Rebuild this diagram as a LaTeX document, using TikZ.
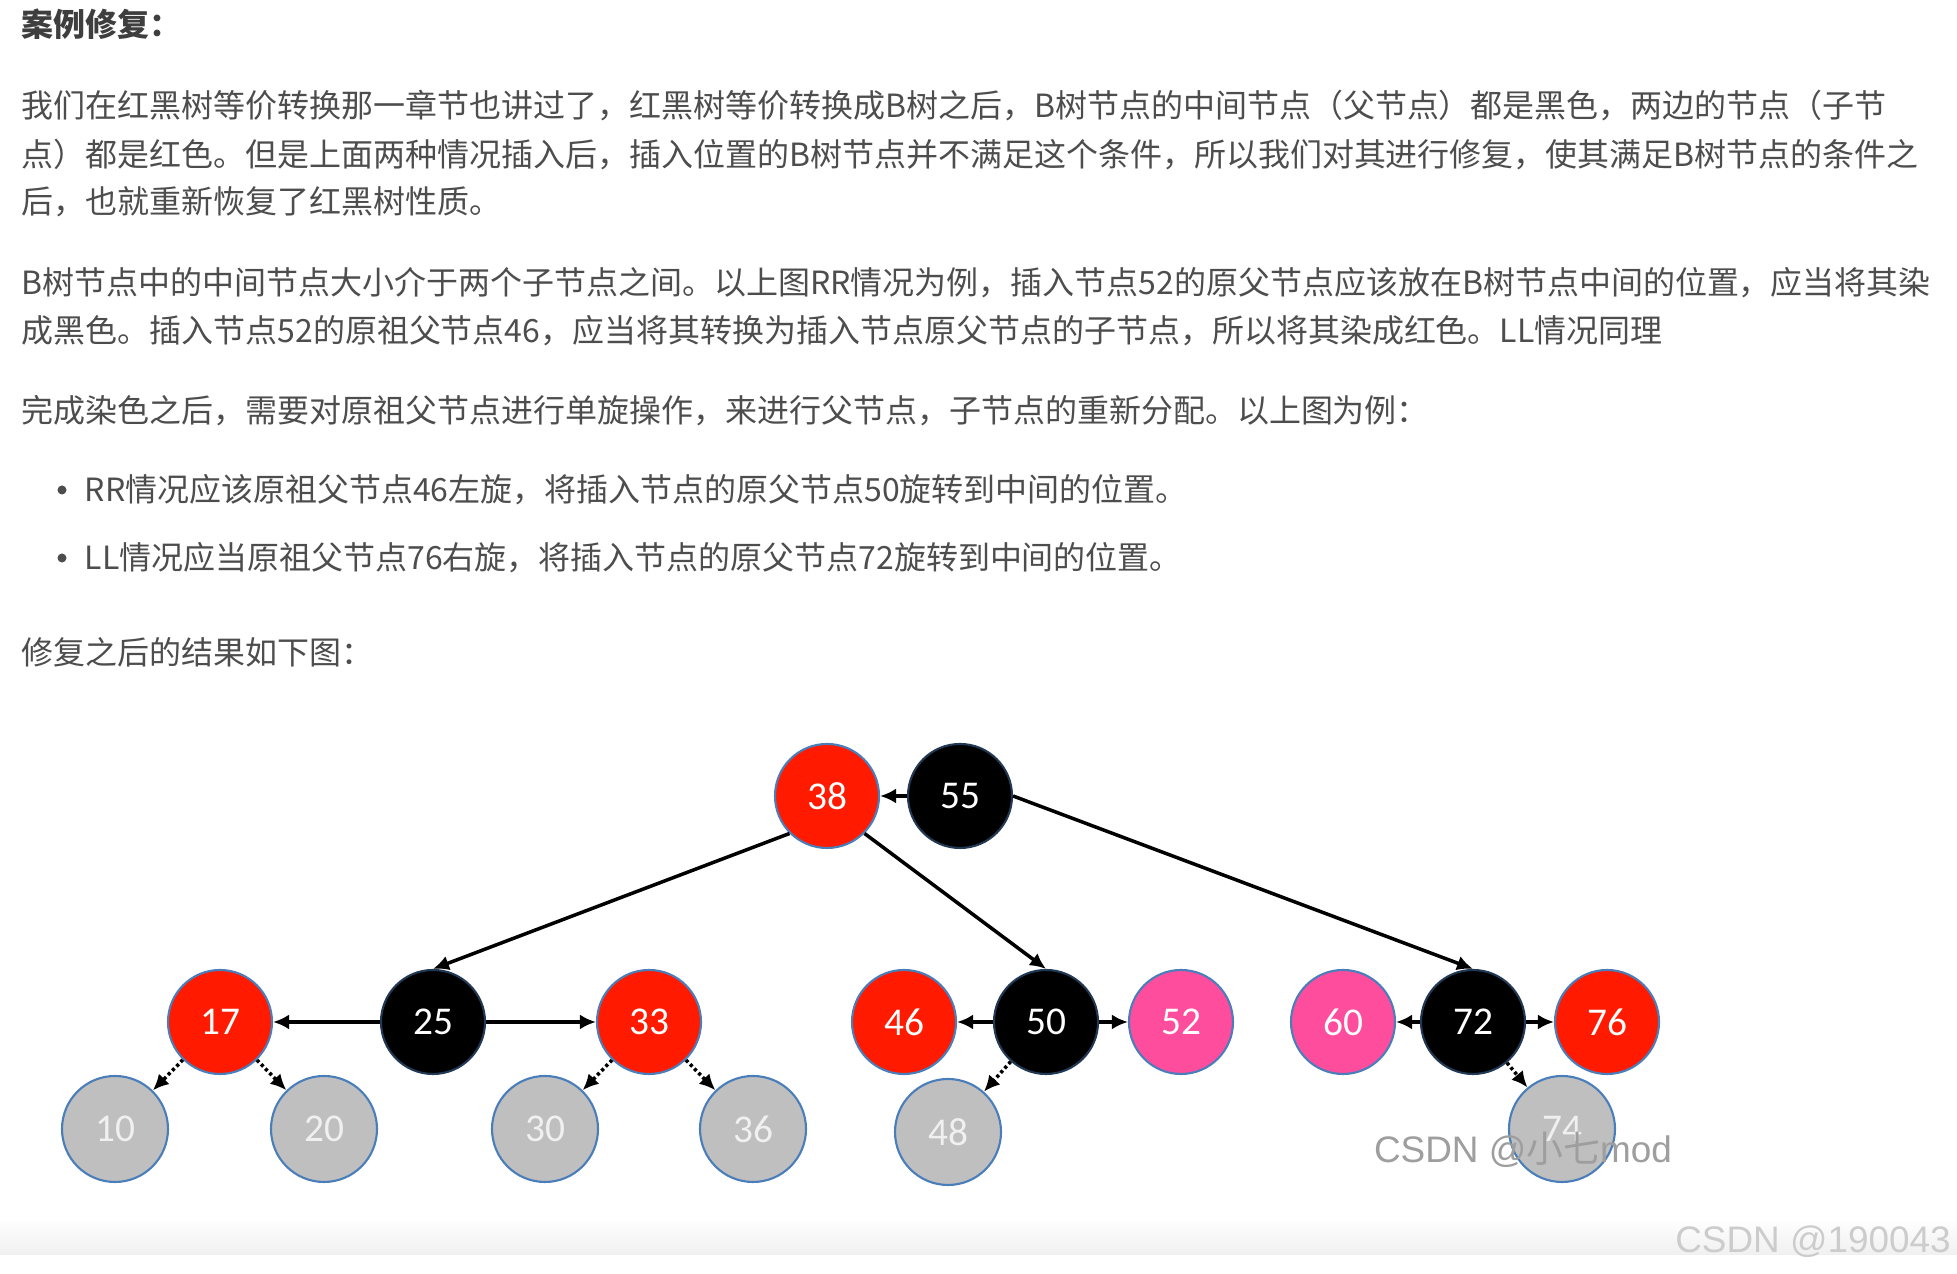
\documentclass[tikz,border=0pt]{standalone}
\usepackage{fontspec}
\setmainfont{Noto Sans CJK SC}
\newfontfamily\keyfont{Carlito}
\newfontfamily\wmfont{Liberation Sans}
\usetikzlibrary{positioning,arrows.meta}
\definecolor{rbred}{HTML}{FF1A00}
\definecolor{rbpink}{HTML}{FF4D9E}
\definecolor{leafgray}{HTML}{BFBFBF}
\definecolor{keyedge}{HTML}{4A7EBB}
\definecolor{textgray}{HTML}{4D4D4D}

\begin{document}
\begin{tikzpicture}[
 key/.style={circle,minimum size=10.4mm,inner sep=0pt,line width=0.6pt,font=\keyfont\fontsize{11.2}{12}\selectfont,text=white},
 redkey/.style={key,draw=keyedge,fill=rbred},
 blackkey/.style={key,draw=keyedge!45!black,fill=black},
 pinkkey/.style={key,draw=keyedge,fill=rbpink},
 leaf/.style={key,draw=keyedge,fill=leafgray,minimum size=10.6mm,text=white!94!black},
 link/.style={draw=black,line width=1pt,-{Latex[length=1.6mm,width=1.5mm]}},
 nullink/.style={draw=black,line width=1pt,dash pattern=on 0.9pt off 0.8pt,-{Latex[length=1.6mm,width=1.5mm]}},
 bodytext/.style={anchor=west,inner sep=0pt,text=textgray,font=\fontsize{9.1}{11}\selectfont,text height=0.28cm,text depth=0.04cm},
 heading/.style={bodytext,font=\fontsize{9.1}{11}\selectfont\bfseries,text=textgray!80!black},
 bulletdot/.style={circle,fill=textgray,minimum size=0.9mm,inner sep=0pt},
 watermark/.style={anchor=base,inner sep=0pt,font=\wmfont\fontsize{10.5}{12}\selectfont}]

\useasboundingbox (0,0) rectangle (19.57,12.74);
\fill[white] (0,0) rectangle (19.57,12.74);
\shade[top color=white,bottom color=black!6] (0,0.19) rectangle (19.57,0.55);

% Explanation above the figure, one node per printed line.
\node[heading] (title) at (0.21,12.49) {案例修复：};
\node[bodytext] (p1a) at (0.21,11.68) {我们在红黑树等价转换那一章节也讲过了，红黑树等价转换成B树之后，B树节点的中间节点（父节点）都是黑色，两边的节点（子节};
\node[bodytext] (p1b) at (0.21,11.19) {点）都是红色。但是上面两种情况插入后，插入位置的B树节点并不满足这个条件，所以我们对其进行修复，使其满足B树节点的条件之};
\node[bodytext] (p1c) at (0.21,10.72) {后，也就重新恢复了红黑树性质。};
\node[bodytext] (p2a) at (0.21,9.91) {B树节点中的中间节点大小介于两个子节点之间。以上图RR情况为例，插入节点52的原父节点应该放在B树节点中间的位置，应当将其染};
\node[bodytext] (p2b) at (0.21,9.43) {成黑色。插入节点52的原祖父节点46，应当将其转换为插入节点原父节点的子节点，所以将其染成红色。LL情况同理};
\node[bodytext] (p3) at (0.21,8.63) {完成染色之后，需要对原祖父节点进行单旋操作，来进行父节点，子节点的重新分配。以上图为例：};
\node[bulletdot] (d1) at (0.62,7.84) {}; \node[bodytext] (b1) at (0.84,7.84) {RR情况应该原祖父节点46左旋，将插入节点的原父节点50旋转到中间的位置。};
\node[bulletdot] (d2) at (0.62,7.16) {}; \node[bodytext] (b2) at (0.84,7.16) {LL情况应当原祖父节点76右旋，将插入节点的原父节点72旋转到中间的位置。};
\node[bodytext] (p4) at (0.21,6.21) {修复之后的结果如下图：};

% The repaired tree: top B-tree node 38|55, then the three lower B-tree nodes.
\node[redkey] (n38) at (8.27,4.78) {38};
\node[blackkey] (n55) at (9.60,4.78) {55};
\foreach \k/\x in {17/2.20,33/6.49,46/9.04,76/16.07} \node[redkey] (n\k) at (\x,2.52) {\k};
\foreach \k/\x in {25/4.33,50/10.46,72/14.73} \node[blackkey] (n\k) at (\x,2.52) {\k};
\foreach \k/\x in {52/11.81,60/13.43} \node[pinkkey] (n\k) at (\x,2.52) {\k};
\foreach \k/\x/\y in {10/1.15/1.45,20/3.24/1.45,30/5.45/1.45,36/7.53/1.45,48/9.48/1.42,74/15.62/1.45} \node[leaf] (n\k) at (\x,\y) {\k};

\draw[link] (n55) -- (n38);
\draw[link] (n38.225) -- (n25.north);
\draw[link] (n38.-45) -- (n50.north);
\draw[link] (n55.east) -- (n72.north);
\draw[link] (n25) -- (n17); \draw[link] (n25) -- (n33);
\draw[link] (n50) -- (n46); \draw[link] (n50) -- (n52);
\draw[link] (n72) -- (n60); \draw[link] (n72) -- (n76);
% Links to the grey lower nodes are dotted.
\draw[nullink] (n17) -- (n10); \draw[nullink] (n17) -- (n20);
\draw[nullink] (n33) -- (n30); \draw[nullink] (n33) -- (n36);
\draw[nullink] (n50) -- (n48); \draw[nullink] (n72) -- (n74);

\node[watermark,text=black!38] (wm1) at (15.23,1.11) {CSDN @{\rmfamily 小七}mod};
\node[watermark,text=black!20] (wm2) at (18.13,0.21) {CSDN @190043};
\end{tikzpicture}
\end{document}
